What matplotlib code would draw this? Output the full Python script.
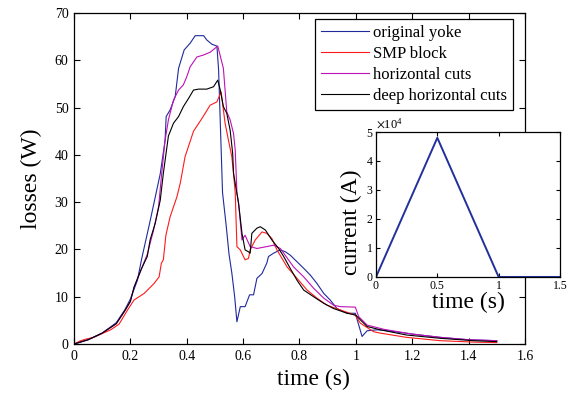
import matplotlib
matplotlib.use("Agg")
import matplotlib.pyplot as plt
import numpy as np
from matplotlib.legend_handler import HandlerLine2D
from matplotlib.ticker import ScalarFormatter

plt.rcParams['font.family'] = ['Liberation Serif', 'DejaVu Serif']
plt.rcParams['mathtext.fontset'] = 'stix'

# original yoke
t_orig = [0, 0.05, 0.1, 0.15, 0.18, 0.2, 0.225, 0.24, 0.255, 0.27, 0.288, 0.306, 0.323, 0.327,
          0.341, 0.359, 0.371, 0.391, 0.412, 0.43, 0.46, 0.471, 0.489, 0.507, 0.513, 0.52, 0.527,
          0.54, 0.55, 0.56, 0.57, 0.578, 0.59, 0.607, 0.623, 0.637, 0.649, 0.667, 0.684, 0.69,
          0.708, 0.732, 0.75, 0.767, 0.791, 0.815, 0.838, 0.862, 0.886, 0.909, 0.933, 0.969,
          0.998, 1.022, 1.04, 1.075, 1.1, 1.2, 1.3, 1.4, 1.5]
y_orig = [0, 0.9, 2.3, 4.5, 7.2, 9.5, 13.5, 18, 22, 26, 31, 36, 43, 48.1,
          49.5, 52.3, 58.3, 62.2, 63.6, 65.2, 65.2, 64.3, 63.4, 63.0, 58, 45, 32,
          25, 19, 15, 10, 4.7, 7.9, 7.9, 10.4, 10.4, 13.9, 14.9, 17.1, 18.5,
          19.2, 19.9, 19.5, 18.8, 17.4, 16.0, 14.6, 12.8, 10.7, 9.3, 7.5, 6.5,
          6.5, 1.6, 2.8, 3.0, 2.9, 2.1, 1.4, 0.9, 0.7]

# SMP block
t_smp = [0, 0.02, 0.04, 0.07, 0.1, 0.13, 0.16, 0.19, 0.213, 0.249, 0.284, 0.302, 0.31, 0.317,
         0.326, 0.341, 0.353, 0.365, 0.377, 0.394, 0.424, 0.454, 0.483, 0.507, 0.516, 0.522,
         0.536, 0.548, 0.56, 0.566, 0.572, 0.578, 0.59, 0.607, 0.619, 0.625, 0.643, 0.667,
         0.684, 0.702, 0.72, 0.756, 0.791, 0.827, 0.862, 0.898, 0.945, 0.998, 1.016, 1.063,
         1.087, 1.18, 1.3, 1.42, 1.5]
y_smp = [0, 0.6, 1.0, 1.4, 2.2, 3.0, 4.2, 7.2, 9.3, 10.7, 12.8, 14.2, 17.1, 17.8,
         23.0, 26.9, 29.0, 31.1, 34.0, 39.6, 45.0, 47.7, 50.5, 51.2, 52.5, 53.3,
         46.7, 43.1, 39.6, 36, 32, 20.6, 19.9, 17.8, 18.1, 19.9, 22.0, 23.7,
         23.4, 22.3, 19.9, 16.3, 13.9, 11.4, 9.7, 8.2, 7.2, 6.1, 4.4, 2.6,
         2.3, 1.4, 0.7, 0.4, 0.3]

# horizontal cuts
t_hc = [0, 0.05, 0.1, 0.15, 0.18, 0.2, 0.213, 0.24, 0.26, 0.282, 0.3, 0.311, 0.323, 0.335,
        0.353, 0.371, 0.388, 0.4, 0.412, 0.436, 0.459, 0.483, 0.51, 0.53, 0.542, 0.554, 0.566,
        0.572, 0.578, 0.584, 0.596, 0.607, 0.625, 0.649, 0.684, 0.708, 0.732, 0.744, 0.779,
        0.815, 0.85, 0.886, 0.921, 0.945, 0.998, 1.01, 1.04, 1.1, 1.2, 1.3, 1.4, 1.5]
y_hc = [0, 0.9, 2.3, 4.3, 7, 9, 12, 16, 19, 24, 29, 36, 43, 47.4,
        51.6, 53.7, 54.8, 56.5, 58.6, 60.7, 61.1, 61.7, 63.0, 58.3, 49.1, 47.4, 44.5,
        41, 32, 29.7, 22.0, 23.0, 20.6, 20.2, 20.6, 20.9, 20.2, 19.2, 16.3,
        14.2, 11.8, 9.7, 8.2, 7.9, 7.8, 5.8, 4.0, 3.1, 2.1, 1.4, 0.9, 0.7]

# deep horizontal cuts
t_dhc = [0, 0.05, 0.1, 0.15, 0.18, 0.2, 0.213, 0.24, 0.26, 0.27, 0.288, 0.306, 0.317, 0.335,
         0.353, 0.371, 0.388, 0.406, 0.424, 0.442, 0.471, 0.495, 0.51, 0.519, 0.53, 0.542,
         0.554, 0.563, 0.566, 0.584, 0.596, 0.607, 0.619, 0.625, 0.631, 0.649, 0.661, 0.679,
         0.702, 0.726, 0.744, 0.767, 0.791, 0.815, 0.85, 0.886, 0.921, 0.969, 1.0, 1.016,
         1.04, 1.087, 1.18, 1.3, 1.418, 1.5]
y_dhc = [0, 0.9, 2.3, 4.3, 7, 9, 12, 16, 18.5, 22, 25.5, 30.4, 36.1, 44,
         46.7, 48.1, 50.2, 51.9, 53.7, 53.9, 53.9, 54.4, 55.8, 53.7, 50.2, 48.8,
         45.2, 40.3, 36.1, 29.7, 23.4, 19.9, 19.5, 19.2, 23.4, 24.5, 24.8, 24.1,
         22.0, 20.2, 18.5, 16.0, 13.5, 11.4, 10.0, 8.6, 7.5, 6.5, 6.1, 5.1,
         3.7, 3.0, 1.9, 1.2, 0.7, 0.5]

# inset: coil current
t_cur = [0, 0.5, 1.0, 1.5]
i_cur = [0, 48000, 0, 0]

labels = ["original yoke", "SMP block", "horizontal cuts", "deep horizontal cuts"]
colors = ["#1f2a9c", "#ff1a1a", "#c010b8", "#000000"]


class ShortLine(HandlerLine2D):
    # draw the legend line only on the right part of the handle box
    def create_artists(self, legend, orig_handle, xdescent, ydescent, width, height, fontsize, trans):
        arts = super().create_artists(legend, orig_handle, xdescent, ydescent, width, height, fontsize, trans)
        for a in arts:
            xd = a.get_xdata()
            if len(xd) == 2:
                a.set_xdata([xd[0] + 0.38 * (xd[1] - xd[0]), xd[1]])
        return arts


fig = plt.figure(figsize=(5.75, 3.97), dpi=100)
ax = fig.add_axes([0.1287, 0.1335, 0.7843, 0.8338])

series = [(t_orig, y_orig), (t_smp, y_smp), (t_hc, y_hc), (t_dhc, y_dhc)]
lines = []
for (t, y), c, lab in zip(series, colors, labels):
    ln, = ax.plot(t, y, color=c, lw=0.8, label=lab)
    lines.append(ln)

ax.set_xlim(0, 1.6)
ax.set_ylim(0, 70)
ax.set_xticks(np.arange(0, 1.61, 0.2))
ax.set_xticklabels(["0", "0.2", "0.4", "0.6", "0.8", "1", "1.2", "1.4", "1.6"])
ax.set_yticks(np.arange(0, 71, 10))
ax.tick_params(direction='in', top=True, right=True, length=4, width=0.8, labelsize=10, pad=4)
for s in ax.spines.values():
    s.set_linewidth(0.9)
ax.set_xlabel("time (s)", fontsize=17, labelpad=3)
ax.xaxis.set_label_coords(0.53, -0.075)
ax.set_ylabel("losses (W)", fontsize=17, labelpad=9)

leg = ax.legend(handles=lines, loc='upper right', bbox_to_anchor=(0.9734, 0.982),
                borderaxespad=0, fontsize=12, frameon=True, fancybox=False,
                edgecolor='black', framealpha=1, handlelength=2.9, handletextpad=0.25,
                labelspacing=0.3, borderpad=0.35,
                handler_map={ln: ShortLine() for ln in lines})
leg.get_frame().set_linewidth(0.9)

# inset
axi = fig.add_axes([0.6539, 0.3023, 0.32, 0.3652])
axi.plot(t_cur, i_cur, color="#22309c", lw=1.4)
axi.set_xlim(0, 1.5)
axi.set_ylim(0, 50000)
axi.set_xticks([0, 0.5, 1, 1.5])
axi.set_xticklabels(["0", "0.5", "1", "1.5"])
axi.set_yticks(np.arange(0, 50001, 10000))
fmt = ScalarFormatter(useMathText=True)
fmt.set_powerlimits((0, 0))
axi.yaxis.set_major_formatter(fmt)
axi.yaxis.get_offset_text().set_fontsize(9)
axi.tick_params(direction='in', top=True, right=True, length=3, width=0.8, labelsize=8.5, pad=2)
for s in axi.spines.values():
    s.set_linewidth(0.9)
axi.set_xlabel("time (s)", fontsize=17, labelpad=0)
axi.set_ylabel("current (A)", fontsize=17, labelpad=2)
axi.yaxis.set_label_coords(-0.075, 0.38)

fig.savefig("out.png", dpi=100)
